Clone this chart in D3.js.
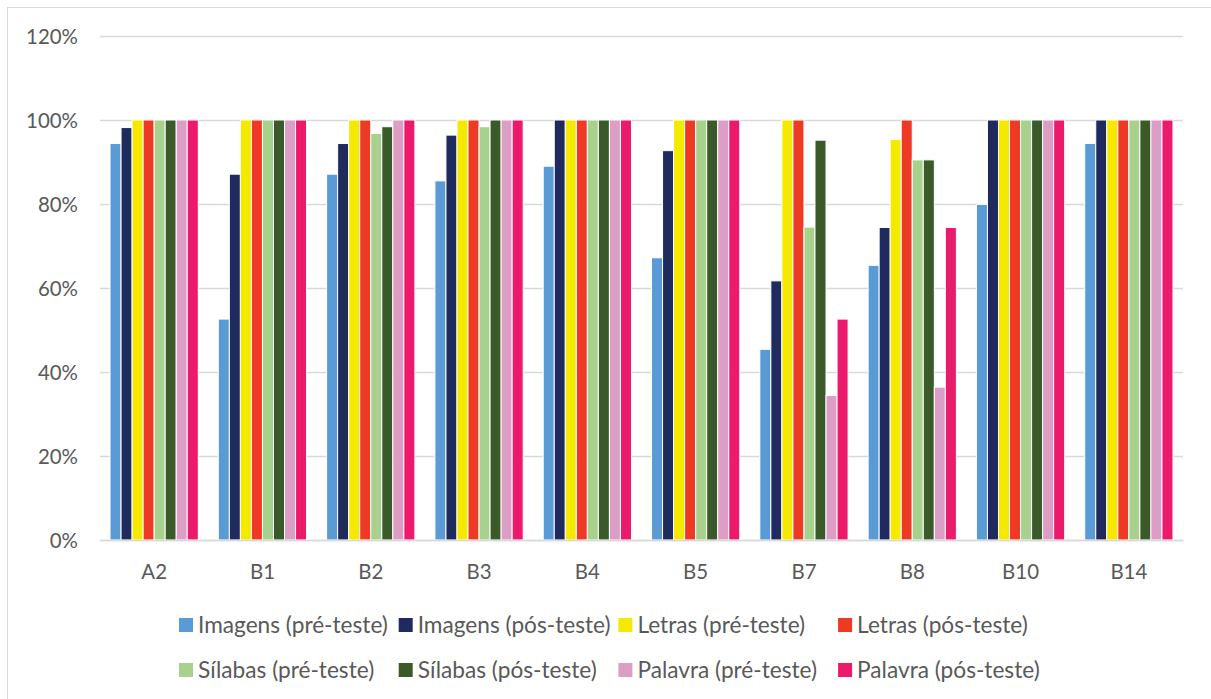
<!DOCTYPE html>
<html>
<head>
<meta charset="utf-8">
<script src="https://cdn.jsdelivr.net/npm/d3@7"></script>
<style>
  html, body { margin: 0; padding: 0; background: #fff; }
  svg text { font-family: Lato, "Open Sans", sans-serif; fill: #595959; }
</style>
</head>
<body>
<svg id="chart" width="1211" height="699"></svg>
<script>
// Participants (categories) and the eight test conditions (series)
const categories = ["A2", "B1", "B2", "B3", "B4", "B5", "B7", "B8", "B10", "B14"];
const seriesNames = [
  "Imagens (pré-teste)", "Imagens (pós-teste)",
  "Letras (pré-teste)", "Letras (pós-teste)",
  "Sílabas (pré-teste)", "Sílabas (pós-teste)",
  "Palavra (pré-teste)", "Palavra (pós-teste)"
];
const seriesColors = ["#5b9bd5", "#1f2a5e", "#f5e900", "#ee3a24", "#a9d18e", "#3b5a2a", "#dc9ec5", "#ec1a6b"];

// Percent correct per participant, one array per condition
const imagensPre  = [94.4, 52.6, 87.1, 85.5, 89.0, 67.2, 45.4, 65.4, 79.9, 94.4];
const imagensPos  = [98.2, 87.1, 94.4, 96.4, 100, 92.7, 61.7, 74.4, 100, 100];
const letrasPre   = [100, 100, 100, 100, 100, 100, 100, 95.4, 100, 100];
const letrasPos   = [100, 100, 100, 100, 100, 100, 100, 100, 100, 100];
const silabasPre  = [100, 100, 96.8, 98.4, 100, 100, 74.5, 90.5, 100, 100];
const silabasPos  = [100, 100, 98.4, 100, 100, 100, 95.2, 90.5, 100, 100];
const palavraPre  = [100, 100, 100, 100, 100, 100, 34.4, 36.4, 100, 100];
const palavraPos  = [100, 100, 100, 100, 100, 100, 52.6, 74.4, 100, 100];

const yTicks = [0, 20, 40, 60, 80, 100, 120];

const seriesValues = [imagensPre, imagensPos, letrasPre, letrasPos, silabasPre, silabasPos, palavraPre, palavraPos];
const rows = categories.map((c, i) => ({
  cat: c,
  values: seriesValues.map((arr, s) => ({ key: s, value: arr[i] }))
}));

const svg = d3.select("#chart");
const W = 1211, H = 699;

// size text so each label takes the width it is laid out for
function fitSize(sample, targetWidth) {
  const t = svg.append("text").attr("font-size", 20).text(sample);
  const w = t.node().getComputedTextLength() || targetWidth;
  t.remove();
  return Math.max(14, Math.min(26, 20 * targetWidth / w));
}
const legendSize = fitSize(seriesNames[0], 190);
const axisSize = fitSize("100%", 52);

// chart frame
svg.append("rect")
  .attr("x", 7.5).attr("y", 7.5)
  .attr("width", W + 10).attr("height", H + 10)
  .attr("fill", "#fff").attr("stroke", "#d9d9d9").attr("stroke-width", 1);

const plot = { left: 100, right: 1183, top: 36, bottom: 540 };

const x0 = d3.scaleBand().domain(categories)
  .range([plot.left, plot.right])
  .paddingInner(0.185).paddingOuter(0.0925);
const x1 = d3.scaleBand().domain(d3.range(seriesNames.length))
  .range([0, x0.bandwidth()]);
const y = d3.scaleLinear().domain([0, 120]).range([plot.bottom, plot.top]);

// horizontal gridlines
svg.append("g")
  .selectAll("line").data(yTicks).join("line")
  .attr("x1", plot.left).attr("x2", plot.right)
  .attr("y1", d => Math.round(y(d)) + 0.5).attr("y2", d => Math.round(y(d)) + 0.5)
  .attr("stroke", "#d9d9d9").attr("stroke-width", 1.3);

// y axis labels
const yAxis = d3.axisLeft(y).tickValues(yTicks).tickFormat(d => d + "%").tickSize(0).tickPadding(0);
const gy = svg.append("g").attr("transform", `translate(${plot.left - 22},0)`).call(yAxis);
gy.select(".domain").remove();
gy.selectAll("text").attr("font-size", axisSize).attr("dy", "0.35em")
  .style("font-family", null);

// bars
svg.append("g")
  .selectAll("g").data(rows).join("g")
  .attr("transform", d => `translate(${x0(d.cat)},0)`)
  .selectAll("rect").data(d => d.values).join("rect")
  .attr("x", d => x1(d.key))
  .attr("y", d => y(d.value))
  .attr("width", x1.bandwidth())
  .attr("height", d => y(0) - y(d.value))
  .attr("fill", d => seriesColors[d.key])
  .attr("stroke", "#fff").attr("stroke-width", 1);

// x axis baseline + labels
const xAxis = d3.axisBottom(x0).tickSize(0).tickPadding(0);
const gx = svg.append("g").attr("transform", `translate(0,${plot.bottom})`).call(xAxis);
gx.select(".domain").attr("stroke", "#d9d9d9").attr("stroke-width", 1.3);
gx.selectAll("text").attr("font-size", axisSize).attr("y", 32).attr("dy", "0.35em")
  .style("font-family", null);

// legend: two rows on a four-column grid
const legendLeft = 179, legendCol = 219.7;
const legendY = [625, 670];
const legend = svg.append("g");
seriesNames.forEach((name, i) => {
  const r = Math.floor(i / 4), c = i % 4;
  const g = legend.append("g")
    .attr("transform", `translate(${legendLeft + c * legendCol},${legendY[r]})`);
  g.append("rect").attr("x", 0).attr("y", -7).attr("width", 14).attr("height", 14)
    .attr("fill", seriesColors[i]);
  g.append("text").attr("x", 19).attr("y", 0).attr("dy", "0.35em")
    .attr("font-size", legendSize).text(name);
});
</script>
</body>
</html>
